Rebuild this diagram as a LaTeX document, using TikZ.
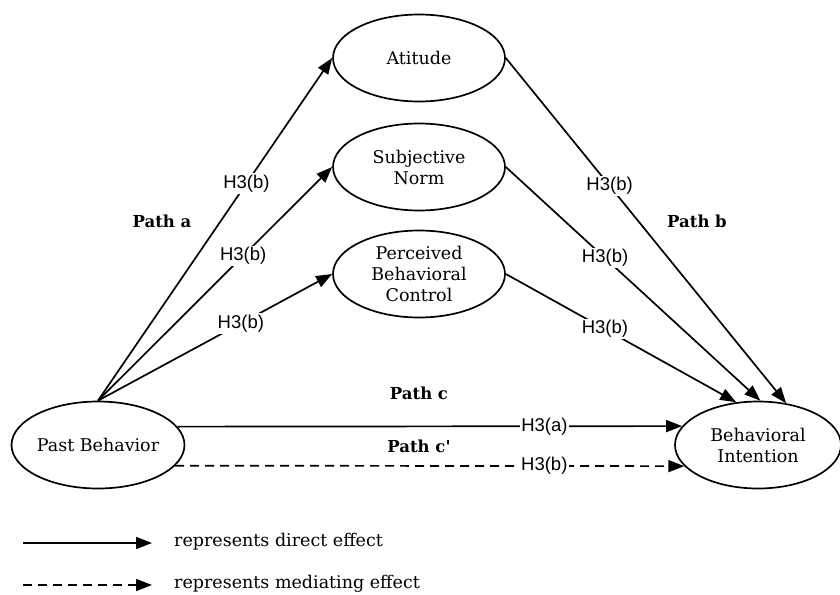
\documentclass[tikz,border=0pt]{standalone}
\usepackage{fontspec}
\setmainfont{DejaVu Serif}
\newfontfamily\hypfont{Liberation Sans}
\usetikzlibrary{arrows.meta,shapes.geometric}
\begin{document}
\begin{tikzpicture}[x=1pt, y=-1pt,
        construct/.style={ellipse, draw, line width=1.7pt, minimum width=172pt, minimum height=87pt, inner sep=0pt, align=center, font=\fontsize{17.5}{21}\selectfont},
        arrow/.style={-{Triangle[length=16pt,width=12pt]}, line width=1.7pt},
        mediate/.style={arrow, dash pattern=on 9pt off 6pt},
        hyp/.style={fill=white, inner sep=1.5pt, font=\hypfont\fontsize{18.5}{20}\selectfont},
        pathlbl/.style={font=\bfseries\fontsize{16.5}{20}\selectfont},
        legend/.style={anchor=west, inner sep=0pt, font=\fontsize{17.5}{21}\selectfont}
    ]
    \useasboundingbox (0,0) rectangle (840,594);

    \node[construct] (past) at (98,445) {Past Behavior};
    \node[construct] (att) at (419,58) {Atitude};
    \node[construct] (sn) at (419,167) {Subjective\\Norm};
    \node[construct] (pbc) at (419,274) {Perceived\\Behavioral\\Control};
    \node[construct, minimum width=166pt] (bi) at (758,445) {Behavioral\\Intention};

    \draw[arrow] (past.north) -- node[hyp, pos=0.634] {H3(b)} (att.west);
    \draw[arrow] (past.north) -- node[hyp, pos=0.62] {H3(b)} (sn.west);
    \draw[arrow] (past.north) -- node[hyp, pos=0.61] {H3(b)} (pbc.west);

    \draw[arrow] (att.east) -- node[hyp, pos=0.37] {H3(b)} (bi.56);
    \draw[arrow] (sn.east) -- node[hyp, pos=0.39] {H3(b)} (bi.87);
    \draw[arrow] (pbc.east) -- node[hyp, pos=0.43] {H3(b)} (bi.117);

    \draw[arrow] (past.13) -- node[hyp, pos=0.727] {H3(a)} (bi.166.5);
    \draw[mediate] (past.-15.5) -- node[hyp, pos=0.725] {H3(b)} (bi.196);

    \node[pathlbl] (patha) at (162,221) {Path a};
    \node[pathlbl] (pathb) at (697,221) {Path b};
    \node[pathlbl] (pathc) at (419,393) {Path c};
    \node[pathlbl] (pathcc) at (419,446) {Path c\textquotesingle};

    % Legend
    \coordinate (directA) at (23,543);
    \coordinate (directB) at (152,543);
    \coordinate (mediateA) at (23,585);
    \coordinate (mediateB) at (152,585);
    \draw[arrow] (directA) -- (directB);
    \draw[mediate] (mediateA) -- (mediateB);
    \node[legend] (directtxt) at (174,542) {represents direct effect};
    \node[legend] (mediatetxt) at (174,584) {represents mediating effect};
\end{tikzpicture}
\end{document}
